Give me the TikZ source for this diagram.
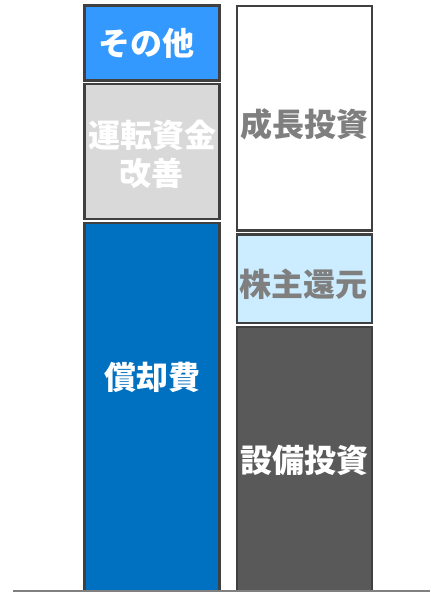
\documentclass[tikz,border=0pt]{standalone}
\usepackage{fontspec}
\newfontfamily\cjk{Noto Sans CJK JP}
\definecolor{bordc}{HTML}{404040}
\definecolor{c-other}{HTML}{3399FF}
\definecolor{c-wc}{HTML}{D9D9D9}
\definecolor{c-dep}{HTML}{0070C0}
\definecolor{c-ret}{HTML}{CCECFF}
\definecolor{c-capex}{HTML}{595959}
\definecolor{txtgray}{HTML}{7F7F7F}
\definecolor{axisc}{HTML}{808080}
\tikzset{
  bar/.style={draw=bordc, line width=2.5pt, inner sep=0pt, outer sep=0pt},
  lbl/.style={font=\cjk\bfseries\fontsize{32}{38}\selectfont, inner sep=0pt, align=center},
}
\begin{document}
\begin{tikzpicture}[x=1pt,y=1pt]
\useasboundingbox (0,0) rectangle (430,-592);
% left column
\node[bar, fill=c-other, minimum width=135pt, minimum height=75pt, anchor=north west] (other) at (84.5,-5.5) {};
\node[bar, fill=c-wc, minimum width=135pt, minimum height=135pt, anchor=north west] (wc) at (84.5,-84) {};
\node[bar, fill=c-dep, minimum width=135pt, minimum height=368pt, anchor=north west] (dep) at (84.5,-223) {};
% right column
\node[bar, fill=white, minimum width=135pt, minimum height=224.5pt, anchor=north west] (growth) at (237,-6) {};
\node[bar, fill=c-ret, minimum width=135pt, minimum height=88.5pt, anchor=north west] (ret) at (237,-234.5) {};
\node[bar, fill=c-capex, minimum width=135pt, minimum height=264pt, anchor=north west] (capex) at (237,-327) {};
% axis line
\coordinate (axl) at (13,-591);
\coordinate (axr) at (430,-591);
\draw[axisc, line width=1.5pt] (axl) -- (axr);
% labels
\node[lbl, text=white] (t-other) at (146,-43) {その他};
\node[lbl, text=white] (t-wc) at (152,-154) {運転資金\\改善};
\node[lbl, text=white] (t-dep) at (152.5,-377) {償却費};
\node[lbl, text=txtgray] (t-growth) at (304,-124) {成長投資};
\node[lbl, text=txtgray] (t-ret) at (303.5,-284) {株主還元};
\node[lbl, text=white] (t-capex) at (304.5,-460) {設備投資};
\end{tikzpicture}
\end{document}
